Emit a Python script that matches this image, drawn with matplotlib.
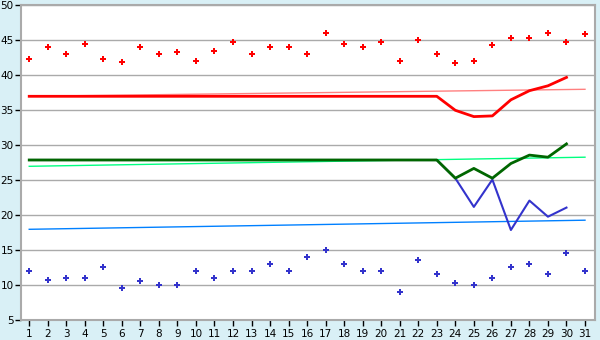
import matplotlib
matplotlib.use('Agg')
import matplotlib.pyplot as plt
import numpy as np

days = list(range(1, 32))

high_pts = [42.3, 44.1, 43.1, 44.5, 42.3, 41.9, 44.0, 43.0, 43.3, 42.0,
            43.4, 44.7, 43.0, 44.0, 44.0, 43.0, 46.0, 44.4, 44.0, 44.7,
            42.0, 45.0, 43.0, 41.7, 42.0, 44.3, 45.3, 45.3, 46.0, 44.7, 45.9]
low_pts = [12.0, 10.7, 11.0, 11.0, 12.6, 9.6, 10.6, 10.0, 10.0, 12.0,
           11.0, 12.0, 12.0, 13.0, 12.0, 14.0, 15.0, 13.0, 12.0, 12.0,
           9.0, 13.6, 11.6, 10.3, 10.0, 11.0, 12.6, 13.0, 11.6, 14.6, 12.0]

line_days = list(range(1, 31))
red_line = [37.0] * 23 + [35.0, 34.1, 34.2, 36.5, 37.8, 38.5, 39.7]
green_line = [27.9] * 23 + [25.3, 26.7, 25.3, 27.4, 28.6, 28.3, 30.2]
blue_line = [27.9] * 23 + [25.3, 21.2, 25.1, 17.9, 22.1, 19.8, 21.1]

trend_days = [1, 31]
red_trend = [37.0, 38.0]
green_trend = [27.0, 28.3]
blue_trend = [18.0, 19.3]

bg = '#d9f0f6'
fig = plt.figure(figsize=(6, 3.4), dpi=100, facecolor=bg)
ax = fig.add_axes([20.7 / 600, 19.7 / 340, 574.3 / 600, 315 / 340])
ax.set_facecolor('white')

ax.yaxis.grid(True, color='#aaaaaa', linewidth=1)
ax.set_axisbelow(True)

ax.plot(trend_days, red_trend, color='#ff8080', linewidth=1)
ax.plot(trend_days, green_trend, color='#00ff80', linewidth=1)
ax.plot(trend_days, blue_trend, color='#0080ff', linewidth=1)

ax.plot(line_days, blue_line, color='#3333cc', linewidth=1.5)
ax.plot(line_days, green_line, color='#006600', linewidth=2)
ax.plot(line_days, red_line, color='#ff0000', linewidth=2)

ax.plot(days, high_pts, linestyle='none', marker='P', markersize=5,
        color='#ff0000', markeredgewidth=0)
ax.plot(days, low_pts, linestyle='none', marker='P', markersize=5,
        color='#3333cc', markeredgewidth=0)

ax.set_xlim(0.54, 31.54)
ax.set_ylim(5, 50)
ax.set_xticks(days)
ax.set_yticks(range(5, 51, 5))

for s in ax.spines.values():
    s.set_color('#aaaaaa')
    s.set_linewidth(1.5)
ax.tick_params(axis='both', colors='black', labelsize=7.5, length=4, width=1)
ax.tick_params(axis='y', pad=1)
ax.tick_params(axis='x', pad=2)

fig.savefig('out.png', dpi=100, facecolor=bg)
